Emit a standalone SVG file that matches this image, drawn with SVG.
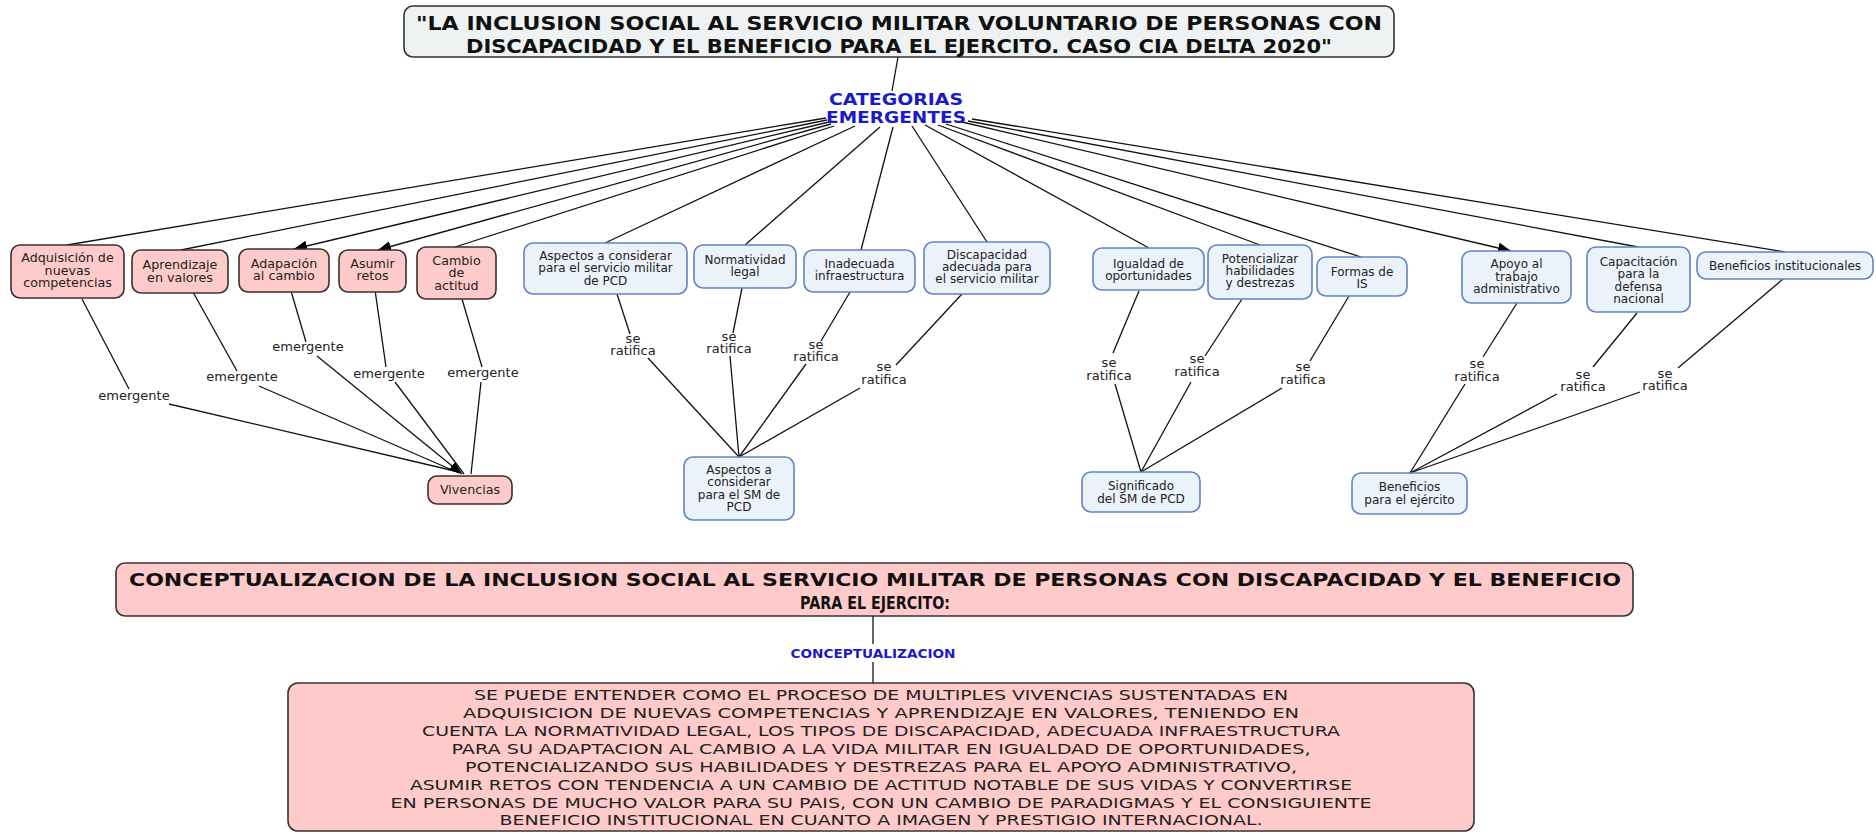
<svg xmlns="http://www.w3.org/2000/svg" width="1876" height="834" viewBox="0 0 1876 834">
<defs>
<style>
.pink{fill:#ffcaca;stroke:#3a3030;stroke-width:1.6}
.blue{fill:#ecf2f9;stroke:#5d85c2;stroke-width:1.6}
.ttl{fill:#eef2f2;stroke:#333;stroke-width:1.6}
.nt{font-family:"DejaVu Sans","Noto Sans",sans-serif;font-size:12px;fill:#222;text-anchor:middle}
.np{font-family:"DejaVu Sans","Noto Sans",sans-serif;font-size:12.7px;fill:#222;text-anchor:middle}
.lb{font-family:"DejaVu Sans","Noto Sans",sans-serif;font-size:13px;fill:#222;text-anchor:middle}
.hd{font-family:"DejaVu Sans Condensed","DejaVu Sans",sans-serif;font-weight:bold;fill:#111;text-anchor:middle}
.hb{font-family:"DejaVu Sans","Noto Sans",sans-serif;font-weight:bold;fill:#1a1ac8;text-anchor:middle}
.pt{font-family:"DejaVu Sans","Noto Sans",sans-serif;font-size:14px;fill:#222;text-anchor:middle}
.ch{font-family:"DejaVu Sans","Noto Sans",sans-serif;font-weight:bold;font-size:17px;fill:#111;text-anchor:middle}
#connectors line{stroke:#111;stroke-width:1.3;fill:none}
</style>
<marker id="arr" markerUnits="userSpaceOnUse" markerWidth="14" markerHeight="12" refX="13" refY="5.5" orient="auto">
<path d="M0,0 L13,5.5 L0,11 z" fill="#000"/>
</marker>
</defs>
<rect width="1876" height="834" fill="#fff"/>

<g id="connectors">
<line x1="898" y1="57" x2="892" y2="91"/>
<line x1="826" y1="118" x2="67" y2="245"/>
<line x1="827" y1="120" x2="181" y2="250"/>
<line x1="829" y1="122" x2="294" y2="249" marker-end="url(#arr)"/>
<line x1="831" y1="124" x2="378" y2="250" marker-end="url(#arr)"/>
<line x1="834" y1="126" x2="455" y2="247"/>
<line x1="855" y1="126" x2="605" y2="243"/>
<line x1="880" y1="127" x2="745" y2="245"/>
<line x1="893" y1="127" x2="861" y2="250"/>
<line x1="912" y1="126" x2="987" y2="242"/>
<line x1="925" y1="125" x2="1149" y2="248"/>
<line x1="938" y1="125" x2="1260" y2="245"/>
<line x1="946" y1="124" x2="1361" y2="257"/>
<line x1="962" y1="122" x2="1511" y2="251" marker-end="url(#arr)"/>
<line x1="968" y1="121" x2="1638" y2="247"/>
<line x1="972" y1="119" x2="1785" y2="252"/>
<line x1="82" y1="299" x2="129" y2="389"/>
<line x1="169" y1="404" x2="459" y2="472"/>
<line x1="193" y1="292" x2="237" y2="371"/>
<line x1="259" y1="386" x2="459" y2="473"/>
<line x1="291" y1="291" x2="306" y2="342"/>
<line x1="317" y1="356" x2="462" y2="474" marker-end="url(#arr)"/>
<line x1="375" y1="290" x2="386" y2="367"/>
<line x1="395" y1="382" x2="464" y2="474"/>
<line x1="462" y1="299" x2="482" y2="367"/>
<line x1="481" y1="382" x2="471" y2="474"/>
<line x1="617" y1="294" x2="630" y2="334"/>
<line x1="648" y1="358" x2="739" y2="457"/>
<line x1="742" y1="288" x2="733" y2="333"/>
<line x1="730" y1="356" x2="739" y2="457"/>
<line x1="850" y1="292" x2="821" y2="341"/>
<line x1="806" y1="364" x2="739" y2="457"/>
<line x1="962" y1="294" x2="896" y2="365"/>
<line x1="860" y1="388" x2="739" y2="457"/>
<line x1="1139" y1="291" x2="1113" y2="353"/>
<line x1="1115" y1="384" x2="1141" y2="472"/>
<line x1="1242" y1="299" x2="1205" y2="356"/>
<line x1="1191" y1="382" x2="1141" y2="472"/>
<line x1="1349" y1="296" x2="1310" y2="361"/>
<line x1="1282" y1="388" x2="1141" y2="472"/>
<line x1="1517" y1="303" x2="1483" y2="357"/>
<line x1="1465" y1="384" x2="1410" y2="473"/>
<line x1="1637" y1="313" x2="1593" y2="367"/>
<line x1="1557" y1="394" x2="1410" y2="473"/>
<line x1="1783" y1="279" x2="1678" y2="368"/>
<line x1="1640" y1="392" x2="1410" y2="473"/>
<line x1="873" y1="616" x2="873" y2="644"/>
<line x1="873" y1="662" x2="873" y2="683"/>
</g>

<g id="labels">
<text class="lb" x="134" y="399.5">emergente</text>
<text class="lb" x="242" y="380.5">emergente</text>
<text class="lb" x="308" y="350.5">emergente</text>
<text class="lb" x="389" y="377.5">emergente</text>
<text class="lb" x="483" y="376.5">emergente</text>
<text class="lb" x="633" y="342.5">se<tspan x="633" dy="12.5">ratifica</tspan></text>
<text class="lb" x="729" y="340.5">se<tspan x="729" dy="12.5">ratifica</tspan></text>
<text class="lb" x="816" y="348.5">se<tspan x="816" dy="12.5">ratifica</tspan></text>
<text class="lb" x="884" y="371">se<tspan x="884" dy="12.5">ratifica</tspan></text>
<text class="lb" x="1109" y="367">se<tspan x="1109" dy="12.5">ratifica</tspan></text>
<text class="lb" x="1197" y="363">se<tspan x="1197" dy="12.5">ratifica</tspan></text>
<text class="lb" x="1303" y="371">se<tspan x="1303" dy="12.5">ratifica</tspan></text>
<text class="lb" x="1477" y="368">se<tspan x="1477" dy="12.5">ratifica</tspan></text>
<text class="lb" x="1583" y="378.5">se<tspan x="1583" dy="12.5">ratifica</tspan></text>
<text class="lb" x="1665" y="377.5">se<tspan x="1665" dy="12.5">ratifica</tspan></text>
<text class="hb" x="873" y="658" font-size="12.5" textLength="165" lengthAdjust="spacingAndGlyphs">CONCEPTUALIZACION</text>
</g>

<g id="title">
<rect class="ttl" x="404" y="6" width="990" height="51" rx="9"/>
<text class="hd" x="899" y="30" font-size="19" textLength="966" lengthAdjust="spacingAndGlyphs">"LA INCLUSION SOCIAL AL SERVICIO MILITAR VOLUNTARIO DE PERSONAS CON</text>
<text class="hd" x="899" y="52.5" font-size="19" textLength="866" lengthAdjust="spacingAndGlyphs">DISCAPACIDAD Y EL BENEFICIO PARA EL EJERCITO. CASO CIA DELTA 2020"</text>
</g>

<g id="hub">
<text class="hb" x="896" y="105" font-size="15" textLength="134" lengthAdjust="spacingAndGlyphs">CATEGORIAS</text>
<text class="hb" x="896" y="123" font-size="15" textLength="140" lengthAdjust="spacingAndGlyphs">EMERGENTES</text>
</g>

<g id="n-adquisicion"><rect class="pink" x="11" y="245" width="113" height="53" rx="9"/>
<text class="np" x="67.5" y="262">Adquisición de</text><text class="np" x="67.5" y="274.5">nuevas</text><text class="np" x="67.5" y="287">competencias</text></g>
<g id="n-aprendizaje"><rect class="pink" x="132" y="250" width="96" height="43" rx="9"/>
<text class="np" x="180" y="269.3">Aprendizaje</text><text class="np" x="180" y="282">en valores</text></g>
<g id="n-adapacion"><rect class="pink" x="239" y="249" width="90" height="43" rx="9"/>
<text class="np" x="284" y="267.6">Adapación</text><text class="np" x="284" y="280.3">al cambio</text></g>
<g id="n-asumir"><rect class="pink" x="339" y="250" width="67" height="42" rx="9"/>
<text class="np" x="372.5" y="267.6">Asumir</text><text class="np" x="372.5" y="280.3">retos</text></g>
<g id="n-cambio"><rect class="pink" x="417" y="247" width="79" height="52" rx="9"/>
<text class="np" x="456.5" y="265">Cambio</text><text class="np" x="456.5" y="277.3">de</text><text class="np" x="456.5" y="289.6">actitud</text></g>
<g id="n-vivencias"><rect class="pink" x="428" y="476" width="84" height="28" rx="9"/>
<text class="np" x="470" y="494.3">Vivencias</text></g>

<g id="n-aspectos"><rect class="blue" x="524" y="243" width="163" height="51" rx="9"/>
<text class="nt" x="605.5" y="260">Aspectos a considerar</text><text class="nt" x="605.5" y="272.3">para el servicio militar</text><text class="nt" x="605.5" y="284.6">de PCD</text></g>
<g id="n-normatividad"><rect class="blue" x="694" y="245" width="102" height="43" rx="9"/>
<text class="nt" x="745" y="263.6">Normatividad</text><text class="nt" x="745" y="276">legal</text></g>
<g id="n-inadecuada"><rect class="blue" x="804" y="250" width="111" height="42" rx="9"/>
<text class="nt" x="859.5" y="268">Inadecuada</text><text class="nt" x="859.5" y="280.4">infraestructura</text></g>
<g id="n-discapacidad"><rect class="blue" x="924" y="242" width="126" height="52" rx="9"/>
<text class="nt" x="987" y="258.6">Discapacidad</text><text class="nt" x="987" y="271">adecuada para</text><text class="nt" x="987" y="283.4">el servicio militar</text></g>
<g id="n-aspectos-sm"><rect class="blue" x="684" y="457" width="110" height="63" rx="9"/>
<text class="nt" x="739" y="473.6">Aspectos a</text><text class="nt" x="739" y="486">considerar</text><text class="nt" x="739" y="498.5">para el SM de</text><text class="nt" x="739" y="511">PCD</text></g>

<g id="n-igualdad"><rect class="blue" x="1093" y="248" width="111" height="42" rx="9"/>
<text class="nt" x="1148.5" y="267.6">Igualdad de</text><text class="nt" x="1148.5" y="280">oportunidades</text></g>
<g id="n-potencializar"><rect class="blue" x="1208" y="245" width="104" height="54" rx="9"/>
<text class="nt" x="1260" y="262.6">Potencializar</text><text class="nt" x="1260" y="275">habilidades</text><text class="nt" x="1260" y="287.4">y destrezas</text></g>
<g id="n-formas"><rect class="blue" x="1317" y="257" width="90" height="39" rx="9"/>
<text class="nt" x="1362" y="275.5">Formas de</text><text class="nt" x="1362" y="288">IS</text></g>
<g id="n-significado"><rect class="blue" x="1082" y="472" width="118" height="40" rx="9"/>
<text class="nt" x="1141" y="490.3">Significado</text><text class="nt" x="1141" y="502.7">del SM de PCD</text></g>

<g id="n-apoyo"><rect class="blue" x="1462" y="251" width="109" height="52" rx="9"/>
<text class="nt" x="1516.5" y="268.3">Apoyo al</text><text class="nt" x="1516.5" y="280.7">trabajo</text><text class="nt" x="1516.5" y="293">administrativo</text></g>
<g id="n-capacitacion"><rect class="blue" x="1587" y="247" width="103" height="65" rx="9"/>
<text class="nt" x="1638.5" y="266">Capacitación</text><text class="nt" x="1638.5" y="278.3">para la</text><text class="nt" x="1638.5" y="290.6">defensa</text><text class="nt" x="1638.5" y="303">nacional</text></g>
<g id="n-beneficios-inst"><rect class="blue" x="1697" y="252" width="176" height="27" rx="9"/>
<text class="nt" x="1785" y="269.5">Beneficios institucionales</text></g>
<g id="n-beneficios-ejercito"><rect class="blue" x="1352" y="473" width="115" height="41" rx="9"/>
<text class="nt" x="1409.5" y="491">Beneficios</text><text class="nt" x="1409.5" y="503.5">para el ejército</text></g>

<g id="n-conceptualizacion-header"><rect class="pink" x="116" y="563" width="1517" height="53" rx="9"/>
<text class="ch" x="875" y="585.5" textLength="1492" lengthAdjust="spacingAndGlyphs">CONCEPTUALIZACION DE LA INCLUSION SOCIAL AL SERVICIO MILITAR DE PERSONAS CON DISCAPACIDAD Y EL BENEFICIO</text>
<text class="ch" x="875" y="609" textLength="150" lengthAdjust="spacingAndGlyphs">PARA EL EJERCITO:</text></g>

<g id="n-definicion"><rect class="pink" x="288" y="683" width="1186" height="148" rx="10"/>
<text class="pt" x="881" y="699.5" textLength="814" lengthAdjust="spacingAndGlyphs">SE PUEDE ENTENDER COMO EL PROCESO DE MULTIPLES VIVENCIAS SUSTENTADAS EN</text>
<text class="pt" x="881" y="717.5" textLength="836" lengthAdjust="spacingAndGlyphs">ADQUISICION DE NUEVAS COMPETENCIAS Y APRENDIZAJE EN VALORES, TENIENDO EN</text>
<text class="pt" x="881" y="735.5" textLength="918" lengthAdjust="spacingAndGlyphs">CUENTA LA NORMATIVIDAD LEGAL, LOS TIPOS DE DISCAPACIDAD, ADECUADA INFRAESTRUCTURA</text>
<text class="pt" x="881" y="753.5" textLength="859" lengthAdjust="spacingAndGlyphs">PARA SU ADAPTACION AL CAMBIO A LA VIDA MILITAR EN IGUALDAD DE OPORTUNIDADES,</text>
<text class="pt" x="881" y="771.5" textLength="832" lengthAdjust="spacingAndGlyphs">POTENCIALIZANDO SUS HABILIDADES Y DESTREZAS PARA EL APOYO ADMINISTRATIVO,</text>
<text class="pt" x="881" y="789.5" textLength="942" lengthAdjust="spacingAndGlyphs">ASUMIR RETOS CON TENDENCIA A UN CAMBIO DE ACTITUD NOTABLE DE SUS VIDAS Y CONVERTIRSE</text>
<text class="pt" x="881" y="807.5" textLength="981" lengthAdjust="spacingAndGlyphs">EN PERSONAS DE MUCHO VALOR PARA SU PAIS, CON UN CAMBIO DE PARADIGMAS Y EL CONSIGUIENTE</text>
<text class="pt" x="881" y="825" textLength="763" lengthAdjust="spacingAndGlyphs">BENEFICIO INSTITUCIONAL EN CUANTO A IMAGEN Y PRESTIGIO INTERNACIONAL.</text>
</g>
</svg>
